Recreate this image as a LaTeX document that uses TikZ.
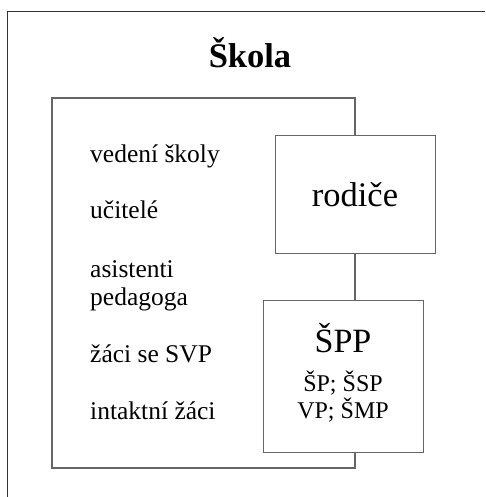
\documentclass[tikz,border=0pt]{standalone}
\usepackage{fontspec}
\setmainfont{Liberation Serif}
\begin{document}
\begin{tikzpicture}[x=1pt,y=-1pt,
  frame/.style={draw=black!80,line width=1.3pt},
  boxline/.style={draw=black!60,line width=1.3pt},
  whitebox/.style={boxline,fill=white},
  lbl/.style={anchor=base,inner sep=0pt,text=black},
  item/.style={anchor=base west,inner sep=0pt,font=\fontsize{25.5}{28}\selectfont,text=black},
]
\useasboundingbox (0,0) rectangle (485,497);
\fill[white] (0,0) rectangle (485,497);
% outer frame (partially visible)
\draw[frame] (7.5,497) -- (7.5,11.5) -- (485,11.5);
\node[lbl,font=\bfseries\fontsize{34.5}{38}\selectfont] (title) at (250,68) {Škola};
% inner box
\draw[boxline] (52,98) rectangle (355,468);
\node[whitebox,minimum width=159.5pt,minimum height=118pt,anchor=north west,inner sep=0pt] (rod) at (275,135) {};
\node[lbl,font=\fontsize{34.5}{38}\selectfont] (rodt) at (355,206) {rodiče};
\node[whitebox,minimum width=159.5pt,minimum height=152pt,anchor=north west,inner sep=0pt] (spp) at (263,300) {};
\node[lbl,font=\fontsize{34}{38}\selectfont] (sppt) at (343,352) {ŠPP};
\node[lbl,font=\fontsize{24}{26}\selectfont] (spp1) at (343,391) {ŠP; ŠSP};
\node[lbl,font=\fontsize{24}{26}\selectfont] (spp2) at (343,418) {VP; ŠMP};
% items
\node[item] (i1) at (90,162) {vedení školy};
\node[item] (i2) at (90,218) {učitelé};
\node[item] (i3) at (90,277) {asistenti};
\node[item] (i4) at (90,305) {pedagoga};
\node[item] (i5) at (90,362) {žáci se SVP};
\node[item] (i6) at (90,419.5) {intaktní žáci};
\end{tikzpicture}
\end{document}
